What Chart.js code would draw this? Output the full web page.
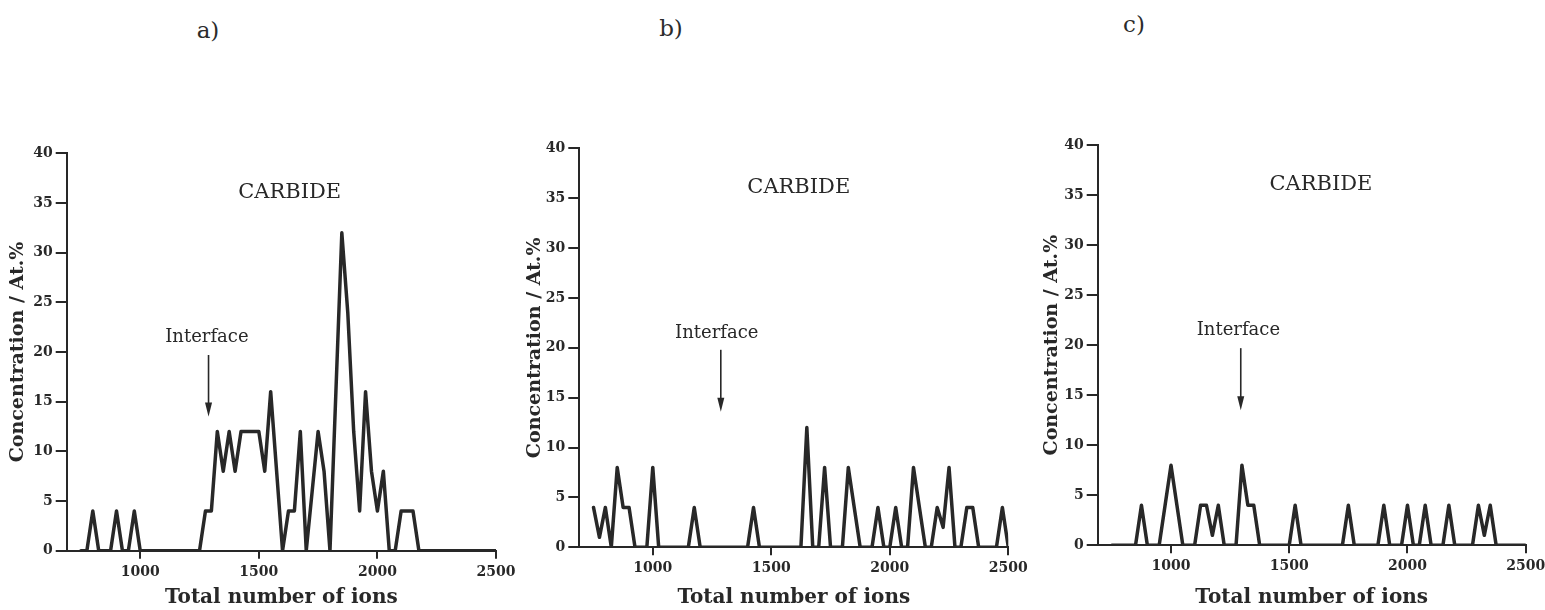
<!DOCTYPE html>
<html>
<head>
<meta charset="utf-8">
<script src="https://cdn.jsdelivr.net/npm/chart.js@4.4.1/dist/chart.umd.min.js"></script>
<style>
  html, body { margin: 0; padding: 0; background: #ffffff; }
  body { width: 1545px; height: 610px; position: relative; overflow: hidden; }
  canvas { position: absolute; }
  .plabel { position: absolute; font-family: "DejaVu Serif", serif; font-size: 23px; color: #2b2b2b; transform: translate(-50%, -50%); white-space: nowrap; }
</style>
</head>
<body>
<div class="plabel" id="la" style="left:208px; top:30px;"></div>
<div class="plabel" id="lb" style="left:671px; top:28px;"></div>
<div class="plabel" id="lc" style="left:1134px; top:24px;"></div>
<canvas id="ca" width="515" height="510" style="left:0px; top:100px;"></canvas>
<canvas id="cb" width="515" height="510" style="left:515px; top:100px;"></canvas>
<canvas id="cc" width="515" height="510" style="left:1030px; top:100px;"></canvas>
<script>
// ---------------- data ----------------
const panelLabels = ["a)", "b)", "c)"];
const xTitle = "Total number of ions";
const yTitle = "Concentration / At.%";
const carbideText = "CARBIDE";
const interfaceText = "Interface";

const xTicks = [1000, 1500, 2000, 2500];
const yTicks = [0, 5, 10, 15, 20, 25, 30, 35, 40];

const ions = [
  750, 775, 800, 825, 850, 875, 900, 925, 950, 975,
  1000, 1025, 1050, 1075, 1100, 1125, 1150, 1175, 1200, 1225,
  1250, 1275, 1300, 1325, 1350, 1375, 1400, 1425, 1450, 1475,
  1500, 1525, 1550, 1575, 1600, 1625, 1650, 1675, 1700, 1725,
  1750, 1775, 1800, 1825, 1850, 1875, 1900, 1925, 1950, 1975,
  2000, 2025, 2050, 2075, 2100, 2125, 2150, 2175, 2200, 2225,
  2250, 2275, 2300, 2325, 2350, 2375, 2400, 2425, 2450, 2475,
  2500
];

const concA = [
  0, 0, 4, 0, 0, 0, 4, 0, 0, 4,
  0, 0, 0, 0, 0, 0, 0, 0, 0, 0,
  0, 4, 4, 12, 8, 12, 8, 12, 12, 12,
  12, 8, 16, 8, 0, 4, 4, 12, 0, 6,
  12, 8, 0, 16, 32, 24, 12, 4, 16, 8,
  4, 8, 0, 0, 4, 4, 4, 0, 0, 0,
  0, 0, 0, 0, 0, 0, 0, 0, 0, 0,
  0
];

const concB = [
  4, 1, 4, 0, 8, 4, 4, 0, 0, 0,
  8, 0, 0, 0, 0, 0, 0, 4, 0, 0,
  0, 0, 0, 0, 0, 0, 0, 4, 0, 0,
  0, 0, 0, 0, 0, 0, 12, 0, 0, 8,
  0, 0, 0, 8, 4, 0, 0, 0, 4, 0,
  0, 4, 0, 0, 8, 4, 0, 0, 4, 2,
  8, 0, 0, 4, 4, 0, 0, 0, 0, 4,
  0
];

const concC = [
  0, 0, 0, 0, 0, 4, 0, 0, 0, 4,
  8, 4, 0, 0, 0, 4, 4, 1, 4, 0,
  0, 0, 8, 4, 4, 0, 0, 0, 0, 0,
  0, 4, 0, 0, 0, 0, 0, 0, 0, 0,
  4, 0, 0, 0, 0, 0, 4, 0, 0, 0,
  4, 0, 0, 4, 0, 0, 0, 4, 0, 0,
  0, 0, 4, 1, 4, 0, 0, 0, 0, 0,
  0
];

// annotation anchors (data coordinates) per panel
const carbideAt   = [[1630, 36.0], [1616, 36.1], [1634, 36.0]];
const interfaceAt = [[1281, 21.5], [1270, 21.5], [1285, 21.5]];
const arrowAt     = [[1288, 19.7, 13.5], [1287, 19.8, 13.6], [1295, 19.7, 13.5]];

// ---------------- layout / style ----------------
const xMin = 690, xMax = 2500;
const INK = "#282828";
const FAMILY = '"DejaVu Serif", serif';

// page-pixel layout for each panel
const layouts = [
  { canvasLeft: 0,    canvasTop: 100, w: 515, h: 510, l: 66.7,   r: 496.0,  t: 153.3, b: 550.7, yTitleX: 18.0 },
  { canvasLeft: 515,  canvasTop: 100, w: 515, h: 510, l: 579.3,  r: 1008.3, t: 148.3, b: 547.3, yTitleX: 535.0 },
  { canvasLeft: 1030, canvasTop: 100, w: 515, h: 510, l: 1097.7, r: 1525.7, t: 145.0, b: 545.3, yTitleX: 1051.7 }
];

const annotPlugin = {
  id: 'annot',
  afterDatasetsDraw(chart, args, o) {
    const ctx = chart.ctx;
    const xs = chart.scales.x, ys = chart.scales.y;
    ctx.save();
    ctx.fillStyle = INK;
    ctx.strokeStyle = INK;
    ctx.textAlign = 'center';
    ctx.textBaseline = 'middle';
    ctx.font = '21px ' + FAMILY;
    ctx.fillText(o.carbideText, xs.getPixelForValue(o.carbide[0]), ys.getPixelForValue(o.carbide[1]));
    ctx.font = '18px ' + FAMILY;
    ctx.fillText(o.interfaceText, xs.getPixelForValue(o.iface[0]), ys.getPixelForValue(o.iface[1]));
    const ax = xs.getPixelForValue(o.arrow[0]);
    const y1 = ys.getPixelForValue(o.arrow[1]);
    const y2 = ys.getPixelForValue(o.arrow[2]);
    ctx.lineWidth = 1.6;
    ctx.beginPath();
    ctx.moveTo(ax, y1);
    ctx.lineTo(ax, y2 - 10);
    ctx.stroke();
    ctx.beginPath();
    ctx.moveTo(ax - 3.5, y2 - 14);
    ctx.lineTo(ax + 3.5, y2 - 14);
    ctx.lineTo(ax, y2);
    ctx.closePath();
    ctx.fill();
    ctx.restore();
  }
};

function makeChart(id, series, idx) {
  const L = layouts[idx];
  const yW = L.l - L.canvasLeft;
  const xH = (L.canvasTop + L.h) - L.b;
  const padTop = L.t - L.canvasTop;
  const padRight = (L.canvasLeft + L.w) - L.r;
  const titleSize = 19;
  const xTitleSize = 20;
  const yTitlePad = (L.yTitleX - L.canvasLeft) - titleSize * 1.2 / 2;
  const pts = ions.map((v, i) => ({ x: v, y: series[i] }));
  return new Chart(document.getElementById(id), {
    type: 'line',
    data: { datasets: [{ data: pts, borderColor: INK, borderWidth: 3.5, pointRadius: 0, tension: 0, fill: false, borderJoinStyle: 'round', borderCapStyle: 'round' }] },
    options: {
      responsive: false,
      animation: false,
      devicePixelRatio: 1,
      layout: { padding: { left: 0, right: padRight, top: padTop, bottom: 0 } },
      plugins: {
        legend: { display: false },
        tooltip: { enabled: false },
        annot: { carbideText: carbideText, interfaceText: interfaceText,
                 carbide: carbideAt[idx], iface: interfaceAt[idx], arrow: arrowAt[idx] }
      },
      scales: {
        x: {
          type: 'linear', min: xMin, max: xMax,
          afterBuildTicks: s => { s.ticks = xTicks.map(v => ({ value: v })); },
          afterFit: s => { s.height = xH; s.paddingLeft = 0; s.paddingRight = 0; },
          border: { display: true, color: INK, width: 2 },
          grid: { drawOnChartArea: false, drawTicks: true, tickLength: 8, color: INK, lineWidth: 2 },
          ticks: { color: INK, font: { family: FAMILY, size: 14, weight: 'bold' }, padding: 5, maxRotation: 0, autoSkip: false, callback: v => String(v) },
          title: { display: true, text: xTitle, color: INK, font: { family: FAMILY, size: xTitleSize, weight: 'bold' }, padding: { top: 0, bottom: 0 } }
        },
        y: {
          type: 'linear', min: 0, max: 40,
          afterBuildTicks: s => { s.ticks = yTicks.map(v => ({ value: v })); },
          afterFit: s => { s.width = yW; s.paddingTop = 0; s.paddingBottom = 0; },
          border: { display: true, color: INK, width: 2 },
          grid: { drawOnChartArea: false, drawTicks: true, tickLength: 11, color: INK, lineWidth: 2 },
          ticks: { color: INK, font: { family: FAMILY, size: 14, weight: 'bold' }, padding: 3, autoSkip: false, callback: v => String(v) },
          title: { display: true, text: yTitle, color: INK, font: { family: FAMILY, size: titleSize, weight: 'bold' }, padding: { top: yTitlePad, bottom: 0 } }
        }
      }
    },
    plugins: [annotPlugin]
  });
}

document.getElementById('la').textContent = panelLabels[0];
document.getElementById('lb').textContent = panelLabels[1];
document.getElementById('lc').textContent = panelLabels[2];

makeChart('ca', concA, 0);
makeChart('cb', concB, 1);
makeChart('cc', concC, 2);
</script>
</body>
</html>
